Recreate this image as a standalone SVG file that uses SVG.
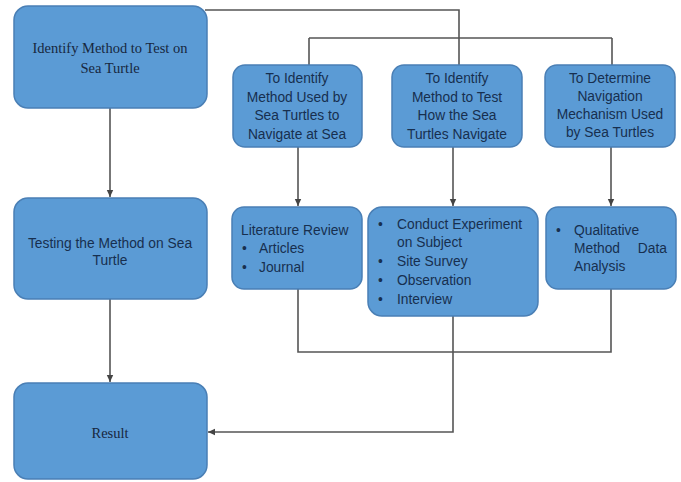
<svg xmlns="http://www.w3.org/2000/svg" width="681" height="482" viewBox="0 0 681 482">
  <defs>
    <marker id="arr" markerWidth="8" markerHeight="8" refX="7" refY="4" orient="auto" markerUnits="userSpaceOnUse">
      <path d="M0,0.8 L7,4 L0,7.2 Z" fill="#444"/>
    </marker>
    <style>
      .box { fill: #5b9bd5; stroke: #4a7fb5; stroke-width: 1.5; }
      .line { fill: none; stroke: #555; stroke-width: 1.6; }
      .serif { font-family: "Liberation Serif", "Times New Roman", serif; font-size: 14.5px; fill: #17273e; }
      .sans { font-family: "Liberation Sans", Arial, sans-serif; font-size: 13.8px; fill: #172f4f; }
      .mid { text-anchor: middle; }
    </style>
  </defs>
  <rect width="681" height="482" fill="#ffffff"/>

  <!-- connectors -->
  <g id="connectors">
    <path class="line" d="M205,10 H459 V38"/>
    <path class="line" d="M309,38 H612"/>
    <path class="line" d="M309,38 V65"/>
    <path class="line" d="M459,38 V65"/>
    <path class="line" d="M612,38 V65"/>
    <path class="line" d="M110,108 V197" marker-end="url(#arr)"/>
    <path class="line" d="M110,299 V382" marker-end="url(#arr)"/>
    <path class="line" d="M298,147 V206" marker-end="url(#arr)"/>
    <path class="line" d="M453,147 V206" marker-end="url(#arr)"/>
    <path class="line" d="M611,147 V206" marker-end="url(#arr)"/>
    <path class="line" d="M298,289 V352 H611 V289"/>
    <path class="line" d="M453,316 V432 H208" marker-end="url(#arr)"/>
  </g>

  <!-- left column -->
  <g id="identify-method">
    <rect class="box" x="14" y="6" width="193" height="102" rx="14"/>
    <text class="serif mid" x="110" y="53">Identify Method to Test on</text>
    <text class="serif mid" x="110" y="73">Sea Turtle</text>
  </g>
  <g id="testing-method">
    <rect class="box" x="14" y="198" width="193" height="101" rx="14"/>
    <text class="sans mid" x="110" y="248">Testing the Method on Sea</text>
    <text class="sans mid" x="110" y="265">Turtle</text>
  </g>
  <g id="result">
    <rect class="box" x="14" y="383" width="193" height="96" rx="14"/>
    <text class="serif mid" x="110" y="438">Result</text>
  </g>

  <!-- objectives row -->
  <g id="objective-1">
    <rect class="box" x="233" y="65" width="129" height="82" rx="12"/>
    <text class="sans mid" x="297" y="83">To Identify</text>
    <text class="sans mid" x="297" y="102">Method Used by</text>
    <text class="sans mid" x="297" y="120">Sea Turtles to</text>
    <text class="sans mid" x="297" y="139">Navigate at Sea</text>
  </g>
  <g id="objective-2">
    <rect class="box" x="392" y="65" width="130" height="82" rx="12"/>
    <text class="sans mid" x="457" y="83">To Identify</text>
    <text class="sans mid" x="457" y="102">Method to Test</text>
    <text class="sans mid" x="457" y="120">How the Sea</text>
    <text class="sans mid" x="457" y="139">Turtles Navigate</text>
  </g>
  <g id="objective-3">
    <rect class="box" x="545" y="65" width="130" height="82" rx="12"/>
    <text class="sans mid" x="610" y="83">To Determine</text>
    <text class="sans mid" x="610" y="101">Navigation</text>
    <text class="sans mid" x="610" y="119">Mechanism Used</text>
    <text class="sans mid" x="610" y="137">by Sea Turtles</text>
  </g>

  <!-- methods row -->
  <g id="literature-review">
    <rect class="box" x="232" y="207" width="130" height="82" rx="12"/>
    <text class="sans" x="241" y="235">Literature Review</text>
    <text class="sans" x="242" y="253">•</text>
    <text class="sans" x="259" y="253">Articles</text>
    <text class="sans" x="242" y="272">•</text>
    <text class="sans" x="259" y="272">Journal</text>
  </g>
  <g id="experiment">
    <rect class="box" x="368" y="207" width="170" height="109" rx="14"/>
    <text class="sans" x="378" y="229">•</text>
    <text class="sans" x="397" y="229">Conduct Experiment</text>
    <text class="sans" x="397" y="247">on Subject</text>
    <text class="sans" x="378" y="266">•</text>
    <text class="sans" x="397" y="266">Site Survey</text>
    <text class="sans" x="378" y="285">•</text>
    <text class="sans" x="397" y="285">Observation</text>
    <text class="sans" x="378" y="304">•</text>
    <text class="sans" x="397" y="304">Interview</text>
  </g>
  <g id="qualitative">
    <rect class="box" x="546" y="207" width="130" height="82" rx="12"/>
    <text class="sans" x="556" y="235">•</text>
    <text class="sans" x="574" y="235">Qualitative</text>
    <text class="sans" x="574" y="253">Method</text>
    <text class="sans" x="667" y="253" text-anchor="end">Data</text>
    <text class="sans" x="574" y="271">Analysis</text>
  </g>
</svg>
